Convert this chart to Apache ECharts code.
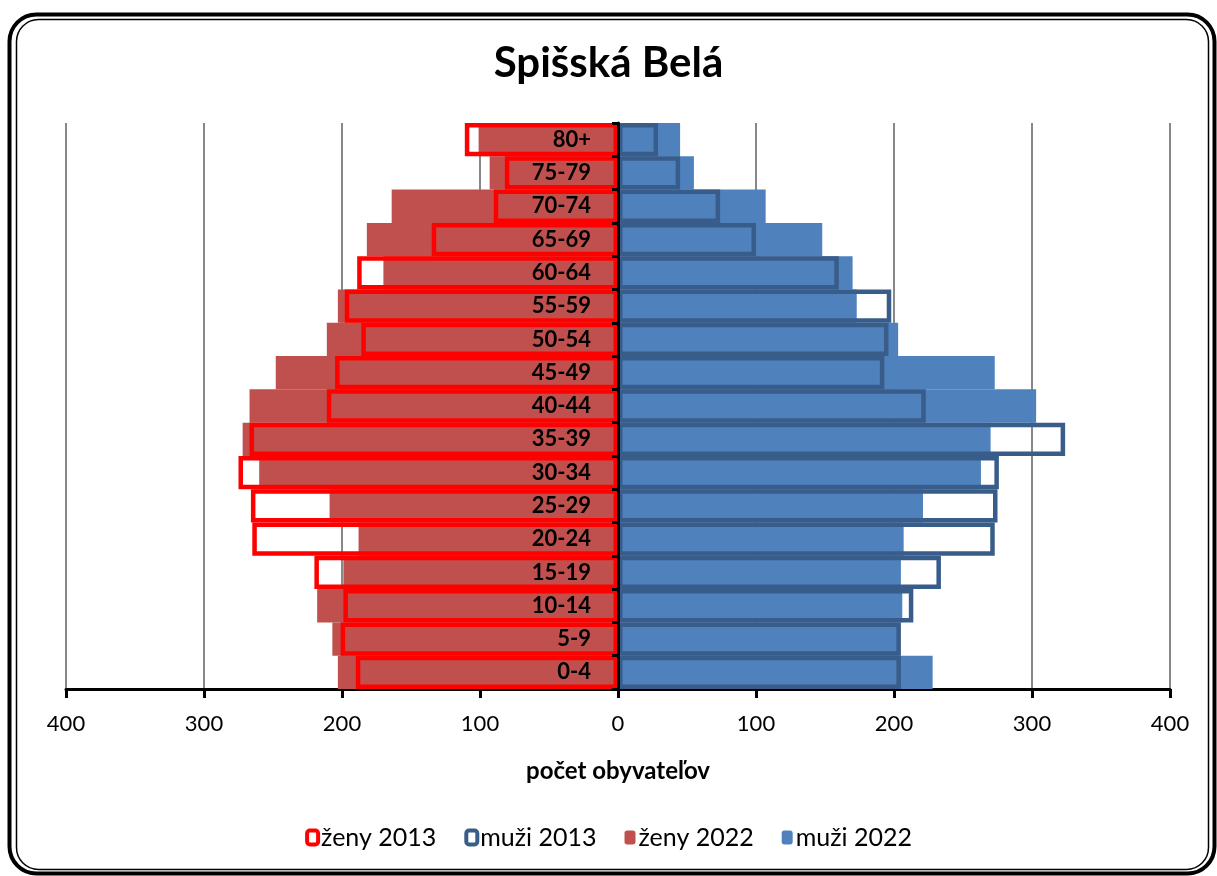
<!DOCTYPE html>
<html>
<head>
<meta charset="utf-8">
<script src="https://cdn.jsdelivr.net/npm/echarts@6/dist/echarts.min.js"></script>
<style>
  html, body { margin: 0; padding: 0; background: #fff; }
  #chart { width: 1217px; height: 876px; }
</style>
</head>
<body>
<div id="chart"></div>
<script>
// age groups, bottom to top
var ages = ['0-4', '5-9', '10-14', '15-19', '20-24', '25-29', '30-34', '35-39', '40-44',
            '45-49', '50-54', '55-59', '60-64', '65-69', '70-74', '75-79', '80+'];
var zeny2013 = [190, 201, 199, 220, 265, 266, 275, 267, 211, 205, 186, 198, 189, 135, 90, 82, 111];
var muzi2013 = [205, 205, 214, 234, 273, 275, 276, 324, 223, 193, 196, 198, 160, 100, 74, 45, 29];
var zeny2022 = [203, 207, 218, 199, 188, 209, 260, 272, 267, 248, 211, 203, 170, 182, 164, 93, 101];
var muzi2022 = [228, 204, 206, 205, 207, 221, 263, 270, 303, 273, 203, 173, 170, 148, 107, 55, 45];

var font = 'Lato';
var gridLeft = 66, gridRight = 47;

function neg(arr) {
    return arr.map(function (v) { return -v; });
}

(function () {
    var mychart = echarts.init(document.getElementById('chart'));
    // category axis sits on the zero of the value axis (middle of the grid)
    var halfWidth = (1217 - gridLeft - gridRight) / 2;

    var option = {
        backgroundColor: '#fff',
        textStyle: { fontFamily: font },
        title: {
            text: 'Spišská Belá',
            left: 'center',
            top: 37,
            textStyle: { fontFamily: font, fontSize: 42, fontWeight: 'bold', color: '#000' }
        },
        legend: {
            bottom: 21,
            left: 'center',
            itemWidth: 11,
            itemHeight: 14,
            itemGap: 28,
            textStyle: { fontFamily: font, fontSize: 25, color: '#000', padding: [0, 0, 0, -2] },
            data: [
                { name: 'ženy 2013', itemStyle: { borderWidth: 4 } },
                { name: 'muži 2013', itemStyle: { borderWidth: 4 } },
                'ženy 2022',
                'muži 2022'
            ]
        },
        graphic: [
            {
                type: 'rect',
                shape: { x: 9.5, y: 14.5, width: 1205, height: 859, r: 27 },
                style: { fill: 'none', stroke: '#000', lineWidth: 4 },
                silent: true
            },
            {
                type: 'rect',
                shape: { x: 16.5, y: 19.5, width: 1192, height: 850, r: 22 },
                style: { fill: 'none', stroke: '#000', lineWidth: 1.5 },
                silent: true
            }
        ],
        grid: {
            left: gridLeft,
            right: gridRight,
            top: 123,
            bottom: 187,
            outerBoundsMode: 'none',
            containLabel: false
        },
        xAxis: {
            type: 'value',
            min: -400,
            max: 400,
            interval: 100,
            name: 'počet obyvateľov',
            nameLocation: 'middle',
            nameGap: 70,
            nameTextStyle: { fontFamily: font, fontSize: 24, fontWeight: 'bold', color: '#000' },
            axisLine: { show: true, onZero: false, lineStyle: { color: '#000', width: 3 } },
            axisTick: { show: true, length: 9, lineStyle: { color: '#000', width: 3 } },
            axisLabel: {
                fontFamily: font,
                fontSize: 22,
                color: '#000',
                margin: 24,
                formatter: function (v) { return Math.abs(v); }
            },
            splitLine: { show: true, lineStyle: { color: '#888', width: 2 } }
        },
        yAxis: {
            type: 'category',
            data: ages,
            z: 10,
            position: 'left',
            offset: -halfWidth,
            axisLine: { show: true, onZero: false, lineStyle: { color: '#000', width: 3 } },
            axisTick: { show: true, length: 6, lineStyle: { color: '#000', width: 3 } },
            axisLabel: {
                fontFamily: font,
                fontSize: 22,
                fontWeight: 'bold',
                color: '#000',
                margin: 27
            },
            splitLine: { show: false }
        },
        series: [
            {
                name: 'ženy 2013',
                type: 'bar',
                z: 4,
                barGap: '-100%',
                barCategoryGap: 0,
                data: neg(zeny2013),
                itemStyle: { color: 'rgba(255,255,255,0)', borderColor: '#FF0000', borderWidth: 4.5 }
            },
            {
                name: 'muži 2013',
                type: 'bar',
                z: 4,
                barGap: '-100%',
                barCategoryGap: 0,
                data: muzi2013,
                itemStyle: { color: 'rgba(255,255,255,0)', borderColor: '#385D8A', borderWidth: 4.5 }
            },
            {
                name: 'ženy 2022',
                type: 'bar',
                z: 2,
                barGap: '-100%',
                barCategoryGap: 0,
                data: neg(zeny2022),
                itemStyle: { color: '#C0504D' }
            },
            {
                name: 'muži 2022',
                type: 'bar',
                z: 2,
                barGap: '-100%',
                barCategoryGap: 0,
                data: muzi2022,
                itemStyle: { color: '#4F81BD' }
            }
        ]
    };
    mychart.setOption(option);
})();
</script>
</body>
</html>
